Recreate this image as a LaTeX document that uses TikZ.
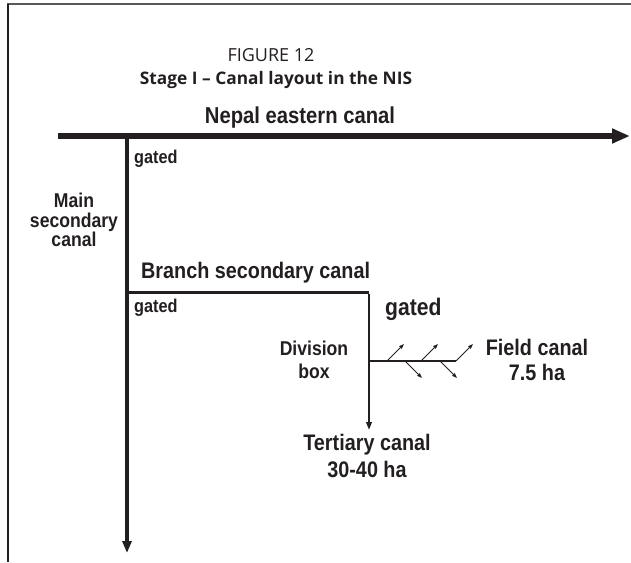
\documentclass[tikz,border=0pt]{standalone}
\usepackage{fontspec}
\setmainfont{Liberation Sans}
\newfontfamily\titlefont{Open Sans}
\newfontfamily\lblfont[FakeStretch=0.88]{Liberation Sans}
\usetikzlibrary{arrows.meta}

\definecolor{ink}{HTML}{231F20}

\tikzset{
  canal/.style={draw=ink, line cap=butt},
  lbl/.style={font=\lblfont\bfseries\fontsize{#1}{#1}\selectfont, text=ink, inner sep=0pt, align=center},
  lbl/.default=22,
  ttltext/.style={font=\titlefont\fontsize{#1}{#1}\selectfont, text=ink, inner sep=0pt},
  outlet/.style={canal, line width=0.9pt, -{Triangle[length=5pt,width=3.5pt]}},
}

\begin{document}
\begin{tikzpicture}[x=1pt, y=-1pt]
  \useasboundingbox (0,0) rectangle (631,562);

  % frame
  \draw[ink!75, line width=2pt] (7,4) -- (631,4);
  \draw[ink, line width=2pt] (8,4) -- (8,562);

  % title
  \node[ttltext=18] (fig) at (271,55) {FIGURE 12};
  \node[ttltext=17, font=\titlefont\bfseries\fontsize{17.3}{17.3}\selectfont] (ttl) at (276,80) {Stage I – Canal layout in the NIS};

  % canal junctions and ends
  \coordinate (nstart) at (58,136);
  \coordinate (nend)   at (630,136);
  \coordinate (j1)     at (127,136);
  \coordinate (msend)  at (127,553);
  \coordinate (j2)     at (127,292);
  \coordinate (bcorner) at (369,292);
  \coordinate (tend)   at (369,430);
  \coordinate (fstart) at (369,361);
  \coordinate (fend)   at (456,361);

  % main canal
  \draw[canal, line width=5.5pt, -{Triangle[length=18pt,width=14pt]}] (nstart) -- (nend);
  % main secondary canal
  \draw[canal, line width=4pt, -{Triangle[length=12pt,width=9pt]}] (j1) -- (msend);
  % branch secondary canal and tertiary canal
  \draw[canal, line width=3pt] (j2) -- (bcorner);
  \draw[canal, line width=2pt, -{Triangle[length=8pt,width=5.5pt]}] ([yshift=-1.5pt]bcorner) -- (tend);
  % field canal
  \draw[canal, line width=2.5pt] (fstart) -- (fend);

  % field outlets
  \foreach \n/\a in {o1/387, o2/421, o3/456}{
    \coordinate (\n s) at (\a,361);
    \coordinate (\n e) at (\a+17,344);
    \draw[outlet] (\n s) -- (\n e);
  }
  \foreach \n/\a in {d1/405, d2/440}{
    \coordinate (\n s) at (\a,361);
    \coordinate (\n e) at (\a+17,378);
    \draw[outlet] (\n s) -- (\n e);
  }

  % labels
  \node[lbl=23] (nec) at (300,118) {Nepal eastern canal};
  \node[lbl=18.5, anchor=west] (g1) at (134,159) {gated};
  \node[lbl=20, align=center] (msc) at (74,220) {Main\\[-0.5pt]secondary\\[-0.5pt]canal};
  \node[lbl=22.5, anchor=west] (bsc) at (141,273) {Branch secondary canal};
  \node[lbl=18.5, anchor=west] (g2) at (134,308) {gated};
  \node[lbl=24, anchor=west] (g3) at (385,309) {gated};
  \node[lbl=20] (dbox) at (314,360) {Division\\[3pt]box};
  \node[lbl=22.5] (fc) at (537,360) {Field canal\\[3pt]7.5 ha};
  \node[lbl=22.5] (tc) at (367,456) {Tertiary canal\\[4pt]30-40 ha};
\end{tikzpicture}
\end{document}
